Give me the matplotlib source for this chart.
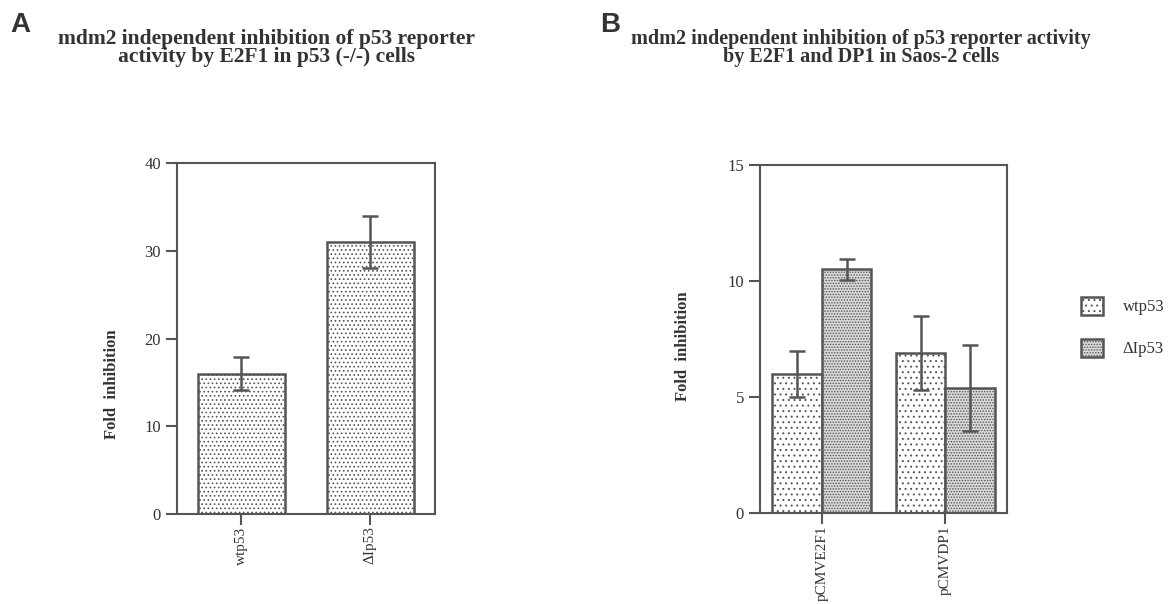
import numpy as np
import matplotlib
matplotlib.use('Agg')
import matplotlib.pyplot as plt

# Panel A data
a_labels = ['wtp53', '\u0394Ip53']
a_values = [16.0, 31.0]
a_errors = [1.9, 3.0]

# Panel B data
b_labels = ['pCMVE2F1', 'pCMVDP1']
b_wt = [6.0, 6.9]
b_wt_err = [1.0, 1.6]
b_delta = [10.5, 5.4]
b_delta_err = [0.45, 1.85]
series = ['wtp53', '\u0394Ip53']

plt.rcParams['font.family'] = ['Liberation Serif', 'DejaVu Serif']
plt.rcParams['hatch.linewidth'] = 0.7
plt.rcParams['hatch.color'] = '#7a7a7a'
ink = '#555555'
txt = '#333333'

fig = plt.figure(figsize=(11.72, 6.04), dpi=100)
axA = fig.add_axes([0.151, 0.149, 0.220, 0.581])
axB = fig.add_axes([0.6485, 0.1507, 0.2108, 0.576])


def style(ax):
    for s in ax.spines.values():
        s.set_color(ink)
        s.set_linewidth(1.5)
    ax.tick_params(colors=ink, labelcolor=txt, width=1.5, length=8,
                   labelsize=12)
    ax.tick_params(axis='x', labelsize=11, pad=1)
    ax.set_ylabel('Fold  inhibition', fontweight='bold', fontsize=12,
                  color=txt)


# Panel A
xa = np.arange(len(a_labels))
axA.bar(xa, a_values, width=0.67, color='white', edgecolor=ink,
        linewidth=1.8, hatch='....')
axA.errorbar(xa, a_values, yerr=a_errors, fmt='none', ecolor=ink,
             elinewidth=1.8, capsize=6, capthick=1.8)
axA.set_xlim(-0.5, 1.5)
axA.set_ylim(0, 40)
axA.set_yticks([0, 10, 20, 30, 40])
axA.set_xticks(xa)
axA.set_xticklabels(a_labels, rotation=90)
style(axA)
axA.yaxis.set_label_coords(-0.22, 0.37)

# Panel B
xb = np.arange(len(b_labels))
bw = axB.bar(xb - 0.2, b_wt, width=0.4, color='white', edgecolor=ink,
             linewidth=1.8, hatch='...')
bd = axB.bar(xb + 0.2, b_delta, width=0.4, color='#dadada', edgecolor=ink,
             linewidth=1.8, hatch='......')
axB.errorbar(xb - 0.2, b_wt, yerr=b_wt_err, fmt='none', ecolor=ink,
             elinewidth=1.8, capsize=6, capthick=1.8)
axB.errorbar(xb + 0.2, b_delta, yerr=b_delta_err, fmt='none', ecolor=ink,
             elinewidth=1.8, capsize=6, capthick=1.8)
axB.set_xlim(-0.5, 1.5)
axB.set_ylim(0, 15)
axB.set_yticks([0, 5, 10, 15])
axB.set_xticks(xb)
axB.set_xticklabels(b_labels, rotation=90)
style(axB)
axB.yaxis.set_label_coords(-0.28, 0.48)

fig.legend([bw, bd], series, loc='center left',
           bbox_to_anchor=(1066 / 1172, 1 - 327 / 604), frameon=False,
           handlelength=1.3, handleheight=1.3, labelspacing=1.4,
           handletextpad=1.2, prop={'size': 12}, labelcolor=txt)

# Titles
fig.text(266 / 1172, 1 - 48 / 604,
         'mdm2 independent inhibition of p53 reporter\nactivity by E2F1 in p53 (-/-) cells',
         ha='center', va='center', fontsize=15.5, fontweight='bold',
         color=txt, linespacing=0.9)
fig.text(861 / 1172, 1 - 48 / 604,
         'mdm2 independent inhibition of p53 reporter activity\nby E2F1 and DP1 in Saos-2 cells',
         ha='center', va='center', fontsize=14.5, fontweight='bold',
         color=txt, linespacing=0.9)
fig.text(10 / 1172, 1 - 32 / 604, 'A', fontsize=20, fontweight='bold',
         family='Liberation Sans', color='#333333')
fig.text(600 / 1172, 1 - 32 / 604, 'B', fontsize=20, fontweight='bold',
         family='Liberation Sans', color='#333333')

fig.savefig('out.png', dpi=100)
